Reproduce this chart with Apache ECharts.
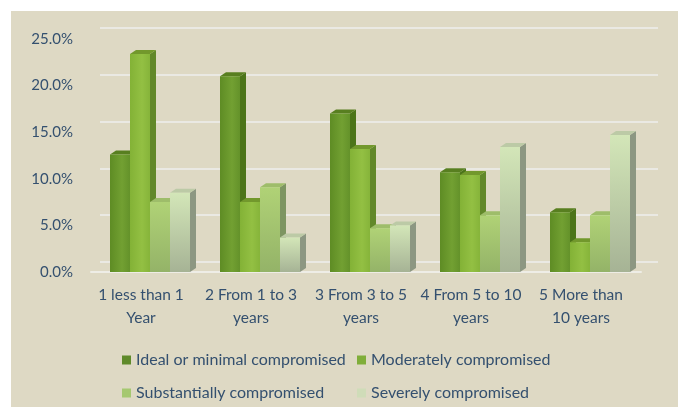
<!DOCTYPE html>
<html>
<head>
<meta charset="utf-8">
<script src="https://cdn.jsdelivr.net/npm/echarts@6/dist/echarts.min.js"></script>
<style>
    html, body { margin: 0; padding: 0; background: #ffffff; }
    #main { width: 678px; height: 407px; }
</style>
</head>
<body>
<div id="main"></div>
<script>
'use strict';

// 数据
let categories = ['1 less than 1\nYear', '2 From 1 to 3\nyears', '3 From 3 to 5\nyears', '4 From 5 to 10\nyears', '5 More than\n10 years'];
let seriesNames = ['Ideal or minimal compromised', 'Moderately compromised', 'Substantially compromised', 'Severely compromised'];
let ideal = [12.6, 21.0, 17.0, 10.7, 6.4];
let moderate = [23.4, 7.5, 13.2, 10.4, 3.2];
let substantial = [7.5, 9.1, 4.7, 6.1, 6.1];
let severe = [8.5, 3.7, 5.0, 13.4, 14.7];
let yTicks = [0, 5, 10, 15, 20, 25];

// 颜色: 正面渐变 / 侧面 / 顶面 / 图例
let faces = [
    {front: ['#5e8c24', '#72a032', '#64922a'], frontV: null, side: '#4c7419', top: '#587f20', icon: '#5f8a2a'},
    {front: ['#83b236', '#93c043', '#86b43a'], frontV: null, side: '#62882a', top: '#72982c', icon: '#80ae3a'},
    {front: null, frontV: ['#b0d276', '#94b368'], side: '#7d9562', top: '#9ebd6a', icon: '#a5c870'},
    {front: null, frontV: ['#d3e6b8', '#a6b395'], side: '#8c9782', top: '#bccaa6', icon: '#cfdcb8'}
];
let allData = [ideal, moderate, substantial, severe];

let textColor = '#34506f';
let fontFamily = 'Lato, "Open Sans", sans-serif';

let barW = 20;
let depthX = 6;
let depthY = 4;
let shift = 4;

function makeRender(si) {
    return function (params, api) {
        let idx = api.value(0);
        let val = api.value(1);
        let p = api.coord([idx, val]);
        let b = api.coord([idx, 0]);
        let x0 = p[0] - barW * 2 + si * barW + shift;
        let x1 = x0 + barW;
        let top = p[1];
        let base = b[1];
        let f = faces[si];
        let frontFill;
        if (f.front) {
            frontFill = new echarts.graphic.LinearGradient(0, 0, 1, 0, [
                {offset: 0, color: f.front[0]},
                {offset: 0.6, color: f.front[1]},
                {offset: 1, color: f.front[2]}
            ]);
        } else {
            frontFill = new echarts.graphic.LinearGradient(0, 0, 0, 1, [
                {offset: 0, color: f.frontV[0]},
                {offset: 1, color: f.frontV[1]}
            ]);
        }
        return {
            type: 'group',
            children: [
                {
                    type: 'polygon',
                    shape: {points: [[x1, top], [x1 + depthX, top - depthY], [x1 + depthX, base - depthY], [x1, base]]},
                    style: {fill: f.side}
                },
                {
                    type: 'polygon',
                    shape: {points: [[x0, top], [x0 + depthX, top - depthY], [x1 + depthX, top - depthY], [x1, top]]},
                    style: {fill: f.top}
                },
                {
                    type: 'rect',
                    shape: {x: x0, y: top, width: barW, height: base - top},
                    style: {fill: frontFill}
                }
            ]
        };
    };
}

let series = [];
// 背景网格线(后墙)
series.push({
    type: 'bar',
    xAxisIndex: 1,
    yAxisIndex: 1,
    data: [],
    silent: true
});
allData.forEach(function (arr, si) {
    series.push({
        type: 'custom',
        name: seriesNames[si],
        xAxisIndex: 0,
        yAxisIndex: 0,
        renderItem: makeRender(si),
        itemStyle: {color: faces[si].icon},
        encode: {x: 0, y: 1},
        data: arr.map(function (v, i) { return [i, v]; }),
        z: 3
    });
});

let myChart = echarts.init(document.getElementById('main'), null, {renderer: 'canvas'});
let legendText = {color: textColor, fontFamily: fontFamily, fontSize: 16};
let option = {
    animation: false,
    backgroundColor: '#ffffff',
    graphic: [{
        type: 'rect',
        shape: {x: 11, y: 11, width: 667, height: 396},
        style: {fill: '#ded9c4'},
        z: -10
    }],
    grid: [
        {left: 91, right: 37, top: 39, bottom: 135},
        {left: 100, right: 20, top: 28, bottom: 145}
    ],
    xAxis: [
        {
            type: 'category',
            gridIndex: 0,
            data: categories,
            axisLine: {show: true, lineStyle: {color: '#eeede6', width: 2}},
            axisTick: {show: false},
            axisLabel: {
                color: textColor,
                fontFamily: fontFamily,
                fontSize: 15.5,
                lineHeight: 23,
                margin: 11,
                padding: [0, 10, 0, 0],
                interval: 0
            }
        },
        {
            type: 'category',
            gridIndex: 1,
            data: categories,
            show: false
        }
    ],
    yAxis: [
        {
            type: 'value',
            gridIndex: 0,
            min: 0,
            max: 25,
            interval: 5,
            splitLine: {show: false},
            axisLine: {show: false},
            axisTick: {show: false},
            axisLabel: {
                color: textColor,
                fontFamily: fontFamily,
                fontSize: 15,
                margin: 18,
                padding: [8, 0, 0, 0],
                formatter: function (v) { return v.toFixed(1) + '%'; }
            }
        },
        {
            type: 'value',
            gridIndex: 1,
            min: 0,
            max: 25,
            interval: 5,
            axisLine: {show: false},
            axisTick: {show: false},
            axisLabel: {show: false},
            splitLine: {show: true, lineStyle: {color: '#eae9e3', width: 2}}
        }
    ],
    legend: [
        {
            orient: 'vertical',
            left: 122,
            top: 352,
            padding: 0,
            itemWidth: 9,
            itemHeight: 9,
            itemGap: 17,
            icon: 'rect',
            data: [seriesNames[0], seriesNames[2]],
            textStyle: legendText
        },
        {
            orient: 'vertical',
            left: 357,
            top: 352,
            padding: 0,
            itemWidth: 9,
            itemHeight: 9,
            itemGap: 17,
            icon: 'rect',
            data: [seriesNames[1], seriesNames[3]],
            textStyle: legendText
        }
    ],
    series: series
};
myChart.setOption(option);
</script>
</body>
</html>
